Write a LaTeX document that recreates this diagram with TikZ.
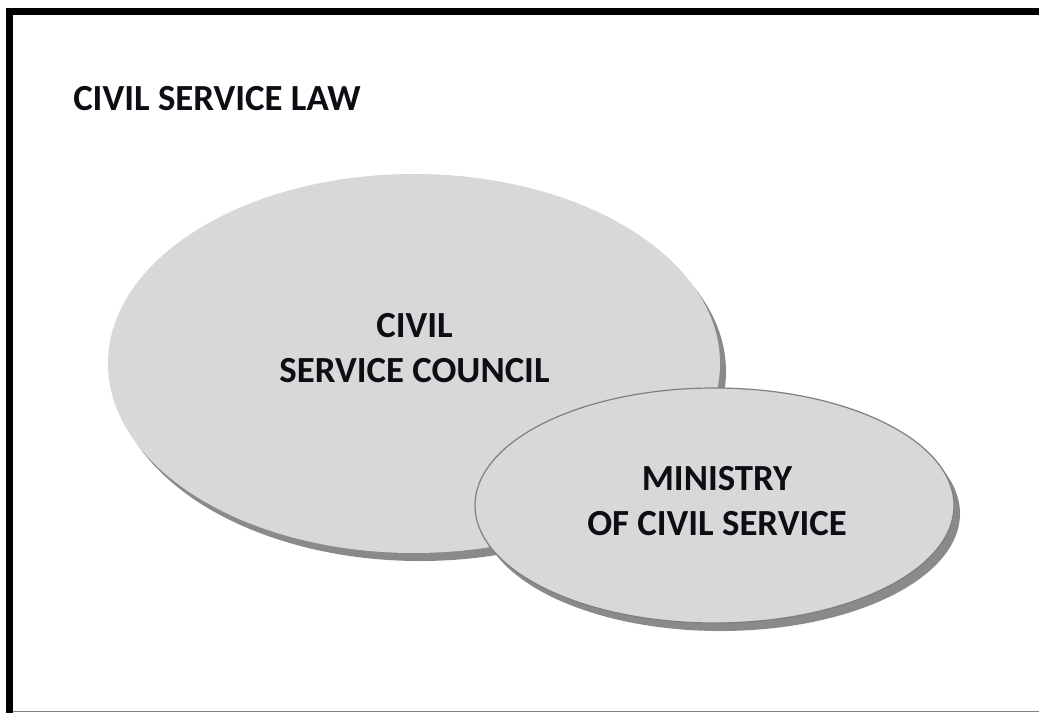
\documentclass[tikz,border=0pt]{standalone}
\usepackage{fontspec}
\setmainfont{Carlito}
\usetikzlibrary{shapes.geometric,shadows}
\definecolor{ovalfill}{HTML}{D8D8D8}
\definecolor{ovalline}{HTML}{7F7F7F}
\definecolor{shadowgray}{HTML}{8A8A8A}
\definecolor{inktext}{HTML}{0D0D14}
\tikzset{
  oval/.style={ellipse, inner sep=0pt, outer sep=0pt, fill=ovalfill,
    drop shadow={shadow xshift=4.5pt, shadow yshift=-6pt, fill=shadowgray, opacity=1}},
  ovaltext/.style={align=center, inner sep=0pt, text=inktext,
    font=\fontsize{27.6}{33.75}\selectfont\bfseries},
  titletext/.style={anchor=base west, inner sep=0pt, text=inktext,
    font=\fontsize{27.6}{33.75}\selectfont\bfseries},
  framebar/.style={line width=5.25pt, black},
  frameedge/.style={line width=1.2pt, ovalline}
}
\begin{document}
\begin{tikzpicture}[x=0.75pt,y=-0.75pt]
\useasboundingbox (0,0) rectangle (1039,713);
\fill[white] (0,0) rectangle (1039,713);
% frame
\draw[frameedge] (9.5,711.5) -- (1039,711.5);
\draw[framebar] (9.5,8) -- (9.5,713);
\draw[framebar] (6,11.5) -- (1039,11.5);
% title
\node[titletext] (title) at (73,111) {CIVIL SERVICE LAW};
% large oval
\node[oval, minimum width=459pt, minimum height=284.25pt] (council) at (414,363.5) {};
\node[ovaltext] (counciltext) at (414.5,348) {CIVIL\\SERVICE COUNCIL};
% small oval
\node[oval, draw=ovalline, line width=0.9pt, minimum width=359.25pt, minimum height=176.25pt] (ministry) at (714.5,505.5) {};
\node[ovaltext] (ministrytext) at (717,501.5) {MINISTRY\\OF CIVIL SERVICE};
\end{tikzpicture}
\end{document}
